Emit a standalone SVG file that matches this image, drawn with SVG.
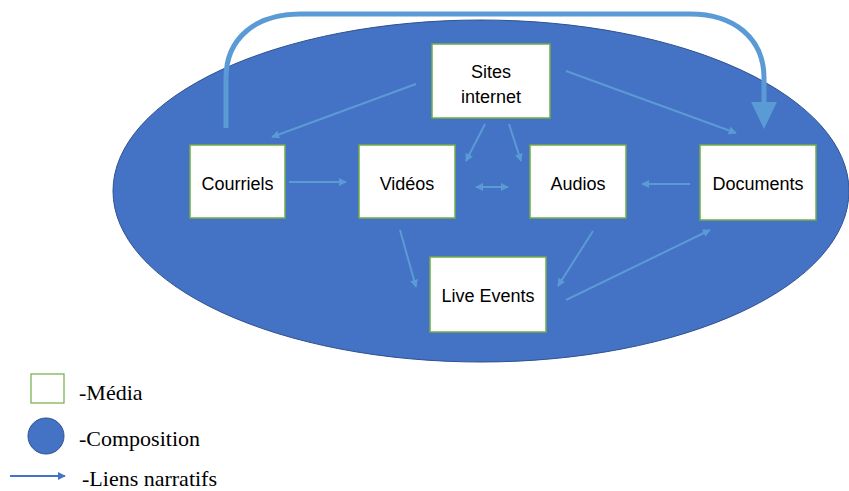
<svg xmlns="http://www.w3.org/2000/svg" width="849" height="491" viewBox="0 0 849 491">
  <style>
    .media rect { fill: #ffffff; stroke: #70AD47; stroke-width: 1.5; }
    .media text { font-family: "Liberation Sans", Arial, sans-serif; font-size: 18px; fill: #000000; text-anchor: middle; }
    .link { fill: none; stroke: #5B9BD5; stroke-width: 2; marker-end: url(#tip); }
    .legend { font-family: "Liberation Serif", "Times New Roman", serif; font-size: 22px; fill: #000000; }
  </style>
  <defs>
    <marker id="tip" viewBox="0 0 10 10" refX="9" refY="5" markerWidth="8" markerHeight="8" markerUnits="userSpaceOnUse" orient="auto">
      <path d="M0,0 L10,5 L0,10 Z" fill="#5B9BD5"/>
    </marker>
    <marker id="tipStart" viewBox="0 0 10 10" refX="1" refY="5" markerWidth="8" markerHeight="8" markerUnits="userSpaceOnUse" orient="auto">
      <path d="M10,0 L0,5 L10,10 Z" fill="#5B9BD5"/>
    </marker>
    <marker id="legendTip" viewBox="0 0 10 10" refX="9" refY="5" markerWidth="8" markerHeight="8" markerUnits="userSpaceOnUse" orient="auto">
      <path d="M0,0 L10,5 L0,10 Z" fill="#4472C4"/>
    </marker>
  </defs>

  <!-- composition -->
  <ellipse id="composition" cx="481" cy="191" rx="368" ry="171" fill="#4472C4" stroke="#2F528F" stroke-width="1"/>

  <!-- links -->
  <g id="connectors">
    <line class="link" x1="416" y1="84" x2="272" y2="137"/>
    <line class="link" x1="566" y1="71" x2="736" y2="133"/>
    <line class="link" x1="485" y1="124" x2="466" y2="161"/>
    <line class="link" x1="509" y1="124" x2="521" y2="161"/>
    <line class="link" x1="289" y1="182" x2="346" y2="182"/>
    <line class="link" x1="476" y1="187" x2="508" y2="187" marker-start="url(#tipStart)"/>
    <line class="link" x1="690" y1="184" x2="642" y2="184"/>
    <line class="link" x1="400" y1="230" x2="416" y2="287"/>
    <line class="link" x1="593" y1="231" x2="558" y2="286"/>
    <line class="link" x1="566" y1="300" x2="710" y2="230"/>
    <!-- long link over the top, Courriels to Documents -->
    <path d="M226,128 L226,78 C226,38 256,14 300,14 L690,14 C734,14 764,38 764,78 L764,104" fill="none" stroke="#5B9BD5" stroke-width="5"/>
    <path d="M751,102 L777,102 L764,129 Z" fill="#5B9BD5"/>
  </g>

  <g id="sites" class="media">
    <rect x="432" y="44" width="118" height="74"/>
    <text x="491" y="78">Sites</text>
    <text x="491" y="103">internet</text>
  </g>
  <g id="courriels" class="media">
    <rect x="190" y="145" width="95" height="73"/>
    <text x="237.5" y="190">Courriels</text>
  </g>
  <g id="videos" class="media">
    <rect x="359" y="145" width="96" height="73"/>
    <text x="407" y="190">Vidéos</text>
  </g>
  <g id="audios" class="media">
    <rect x="530" y="145" width="96" height="73"/>
    <text x="578" y="190">Audios</text>
  </g>
  <g id="documents" class="media">
    <rect x="700" y="145" width="116" height="75"/>
    <text x="758" y="190">Documents</text>
  </g>
  <g id="live-events" class="media">
    <rect x="430" y="257" width="116" height="75"/>
    <text x="488" y="302">Live Events</text>
  </g>

  <!-- key -->
  <g id="legend">
    <rect x="31" y="374" width="33" height="29" fill="#ffffff" stroke="#70AD47" stroke-width="1.2"/>
    <text class="legend" x="79" y="400">-Média</text>
    <circle cx="46" cy="436" r="18" fill="#4472C4" stroke="#2F528F" stroke-width="1"/>
    <text class="legend" x="79" y="446">-Composition</text>
    <line x1="10" y1="476" x2="65" y2="476" stroke="#4472C4" stroke-width="2" marker-end="url(#legendTip)"/>
    <text class="legend" x="82" y="486">-Liens narratifs</text>
  </g>
</svg>
